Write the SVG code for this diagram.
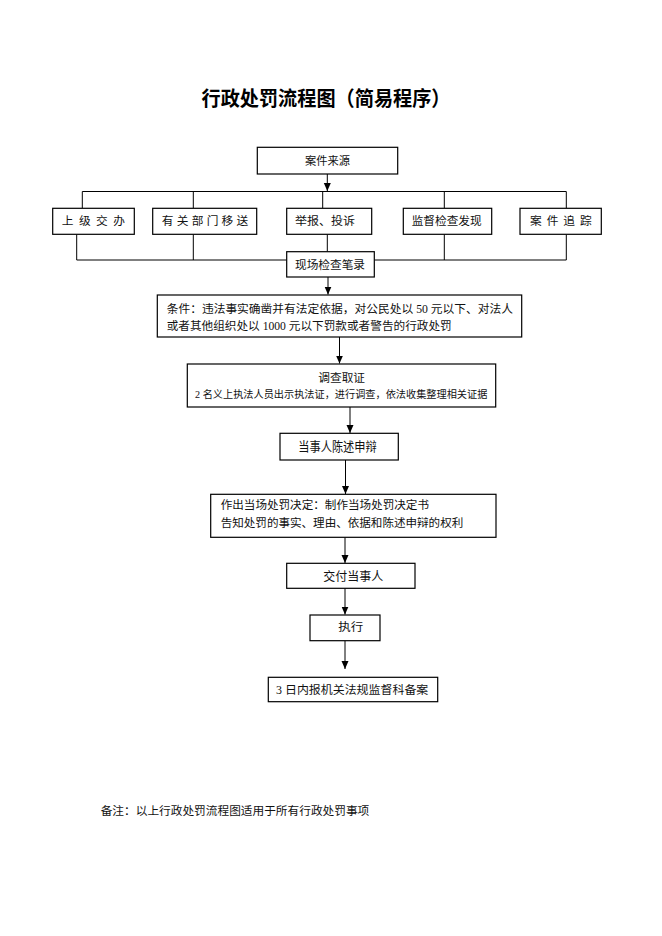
<svg xmlns="http://www.w3.org/2000/svg" width="662" height="936" viewBox="0 0 662 936">
<style>
.box{fill:#fff;stroke:#000;stroke-width:1.2}
.ln{fill:none;stroke:#000;stroke-width:1}
.t{font-family:"Liberation Serif","Noto Sans CJK SC",serif;font-size:11.7px;fill:#111;dominant-baseline:central}
.c{text-anchor:middle}
.title{font-family:"Noto Sans CJK SC",sans-serif;font-size:20.5px;font-weight:bold;fill:#000;text-anchor:middle;dominant-baseline:central}
</style>
<defs>
<marker id="ah" viewBox="0 0 8 8" refX="8" refY="4" markerWidth="8" markerHeight="8" markerUnits="userSpaceOnUse" orient="auto">
<path d="M0,0.5 L8,4 L0,7.5 Z" fill="#000"/>
</marker>
</defs>
<rect width="662" height="936" fill="#fff"/>
<text class="title" x="326" y="97" textLength="249" lengthAdjust="spacingAndGlyphs">行政处罚流程图（简易程序）</text>

<g id="connectors">
<path class="ln" d="M327.3,174 V191" marker-end="url(#ah)"/>
<path class="ln" d="M82.3,191.5 H566.3"/>
<path class="ln" d="M82.3,191.5 V208.3 M193.3,191.5 V208.3 M322.7,191.5 V208.3 M444.3,191.5 V208.3 M566.3,191.5 V208.3"/>
<path class="ln" d="M76.7,234.3 V260 H286.7 M193.3,234.3 V260 M327.3,234.3 V251.7"/>
<path class="ln" d="M374.3,260 H566.3 M444.3,234.3 V260 M566.3,234.3 V260"/>
<path class="ln" d="M328,277 V294.5" marker-end="url(#ah)"/>
<path class="ln" d="M339.5,337 V363.5" marker-end="url(#ah)"/>
<path class="ln" d="M350,407 V433" marker-end="url(#ah)"/>
<path class="ln" d="M345.5,460 V494" marker-end="url(#ah)"/>
<path class="ln" d="M345,537.3 V563" marker-end="url(#ah)"/>
<path class="ln" d="M345,588.3 V614.5" marker-end="url(#ah)"/>
<path class="ln" d="M345,641 V669" marker-end="url(#ah)"/>
</g>

<g id="n-source">
<rect class="box" x="257.3" y="147.3" width="140.4" height="26.7"/>
<text class="t" x="305" y="161.5" textLength="45" lengthAdjust="spacingAndGlyphs">案件来源</text>
</g>
<g id="n-superior">
<rect class="box" x="52.7" y="208.3" width="81.6" height="26"/>
<text class="t" x="61.7" y="221.3" textLength="63.3" lengthAdjust="spacing">上 级 交 办</text>
</g>
<g id="n-transfer">
<rect class="box" x="152.7" y="208.3" width="104" height="26"/>
<text class="t" x="161.7" y="221.3" textLength="86.6" lengthAdjust="spacing">有 关 部 门 移 送</text>
</g>
<g id="n-report">
<rect class="box" x="286.7" y="208.3" width="85" height="26"/>
<text class="t" x="295" y="221.3" textLength="60" lengthAdjust="spacingAndGlyphs">举报、投诉</text>
</g>
<g id="n-inspect">
<rect class="box" x="403.3" y="208.3" width="88.4" height="26"/>
<text class="t" x="411.7" y="221.3" textLength="70" lengthAdjust="spacingAndGlyphs">监督检查发现</text>
</g>
<g id="n-track">
<rect class="box" x="520" y="208.3" width="81.3" height="26"/>
<text class="t" x="530" y="221.3" textLength="61.7" lengthAdjust="spacing">案 件 追 踪</text>
</g>
<g id="n-record">
<rect class="box" x="286.7" y="251.7" width="87.6" height="25.3"/>
<text class="t" x="295" y="265" textLength="70" lengthAdjust="spacingAndGlyphs">现场检查笔录</text>
</g>
<g id="n-condition">
<rect class="box" x="157.3" y="295" width="364.4" height="42"/>
<text class="t" x="166.7" y="309.5" textLength="346.3" lengthAdjust="spacingAndGlyphs">条件：违法事实确凿并有法定依据，对公民处以 50 元以下、对法人</text>
<text class="t" x="166.7" y="326.5" textLength="285" lengthAdjust="spacingAndGlyphs">或者其他组织处以 1000 元以下罚款或者警告的行政处罚</text>
</g>
<g id="n-investigate">
<rect class="box" x="187.3" y="364" width="308.4" height="43"/>
<text class="t" x="318.3" y="378.3" textLength="46.7" lengthAdjust="spacingAndGlyphs">调查取证</text>
<text class="t" x="195" y="394.5" style="font-size:10.4px" textLength="292.3" lengthAdjust="spacingAndGlyphs">2 名义上执法人员出示执法证，进行调查，依法收集整理相关证据</text>
</g>
<g id="n-defense">
<rect class="box" x="280" y="433.3" width="118.3" height="26.7"/>
<text class="t" x="298.3" y="446" style="font-size:13px" textLength="78.4" lengthAdjust="spacingAndGlyphs">当事人陈述申辩</text>
</g>
<g id="n-decision">
<rect class="box" x="210.7" y="494.3" width="285.3" height="43"/>
<text class="t" x="220.7" y="505.7" textLength="208.3" lengthAdjust="spacingAndGlyphs">作出当场处罚决定：制作当场处罚决定书</text>
<text class="t" x="220.7" y="523.3" textLength="242.6" lengthAdjust="spacingAndGlyphs">告知处罚的事实、理由、依据和陈述申辩的权利</text>
</g>
<g id="n-deliver">
<rect class="box" x="286.7" y="563.3" width="128.3" height="25"/>
<text class="t" x="323.3" y="576.5" style="font-size:12px" textLength="60" lengthAdjust="spacingAndGlyphs">交付当事人</text>
</g>
<g id="n-execute">
<rect class="box" x="310" y="615" width="70" height="25.7"/>
<text class="t" x="338.3" y="627.5" textLength="25" lengthAdjust="spacingAndGlyphs">执行</text>
</g>
<g id="n-archive">
<rect class="box" x="268.3" y="677.3" width="169.4" height="24.4"/>
<text class="t" x="276" y="690" textLength="152.3" lengthAdjust="spacingAndGlyphs">3 日内报机关法规监督科备案</text>
</g>
<text class="t" x="100.7" y="811" textLength="268.6" lengthAdjust="spacingAndGlyphs">备注：以上行政处罚流程图适用于所有行政处罚事项</text>
</svg>
